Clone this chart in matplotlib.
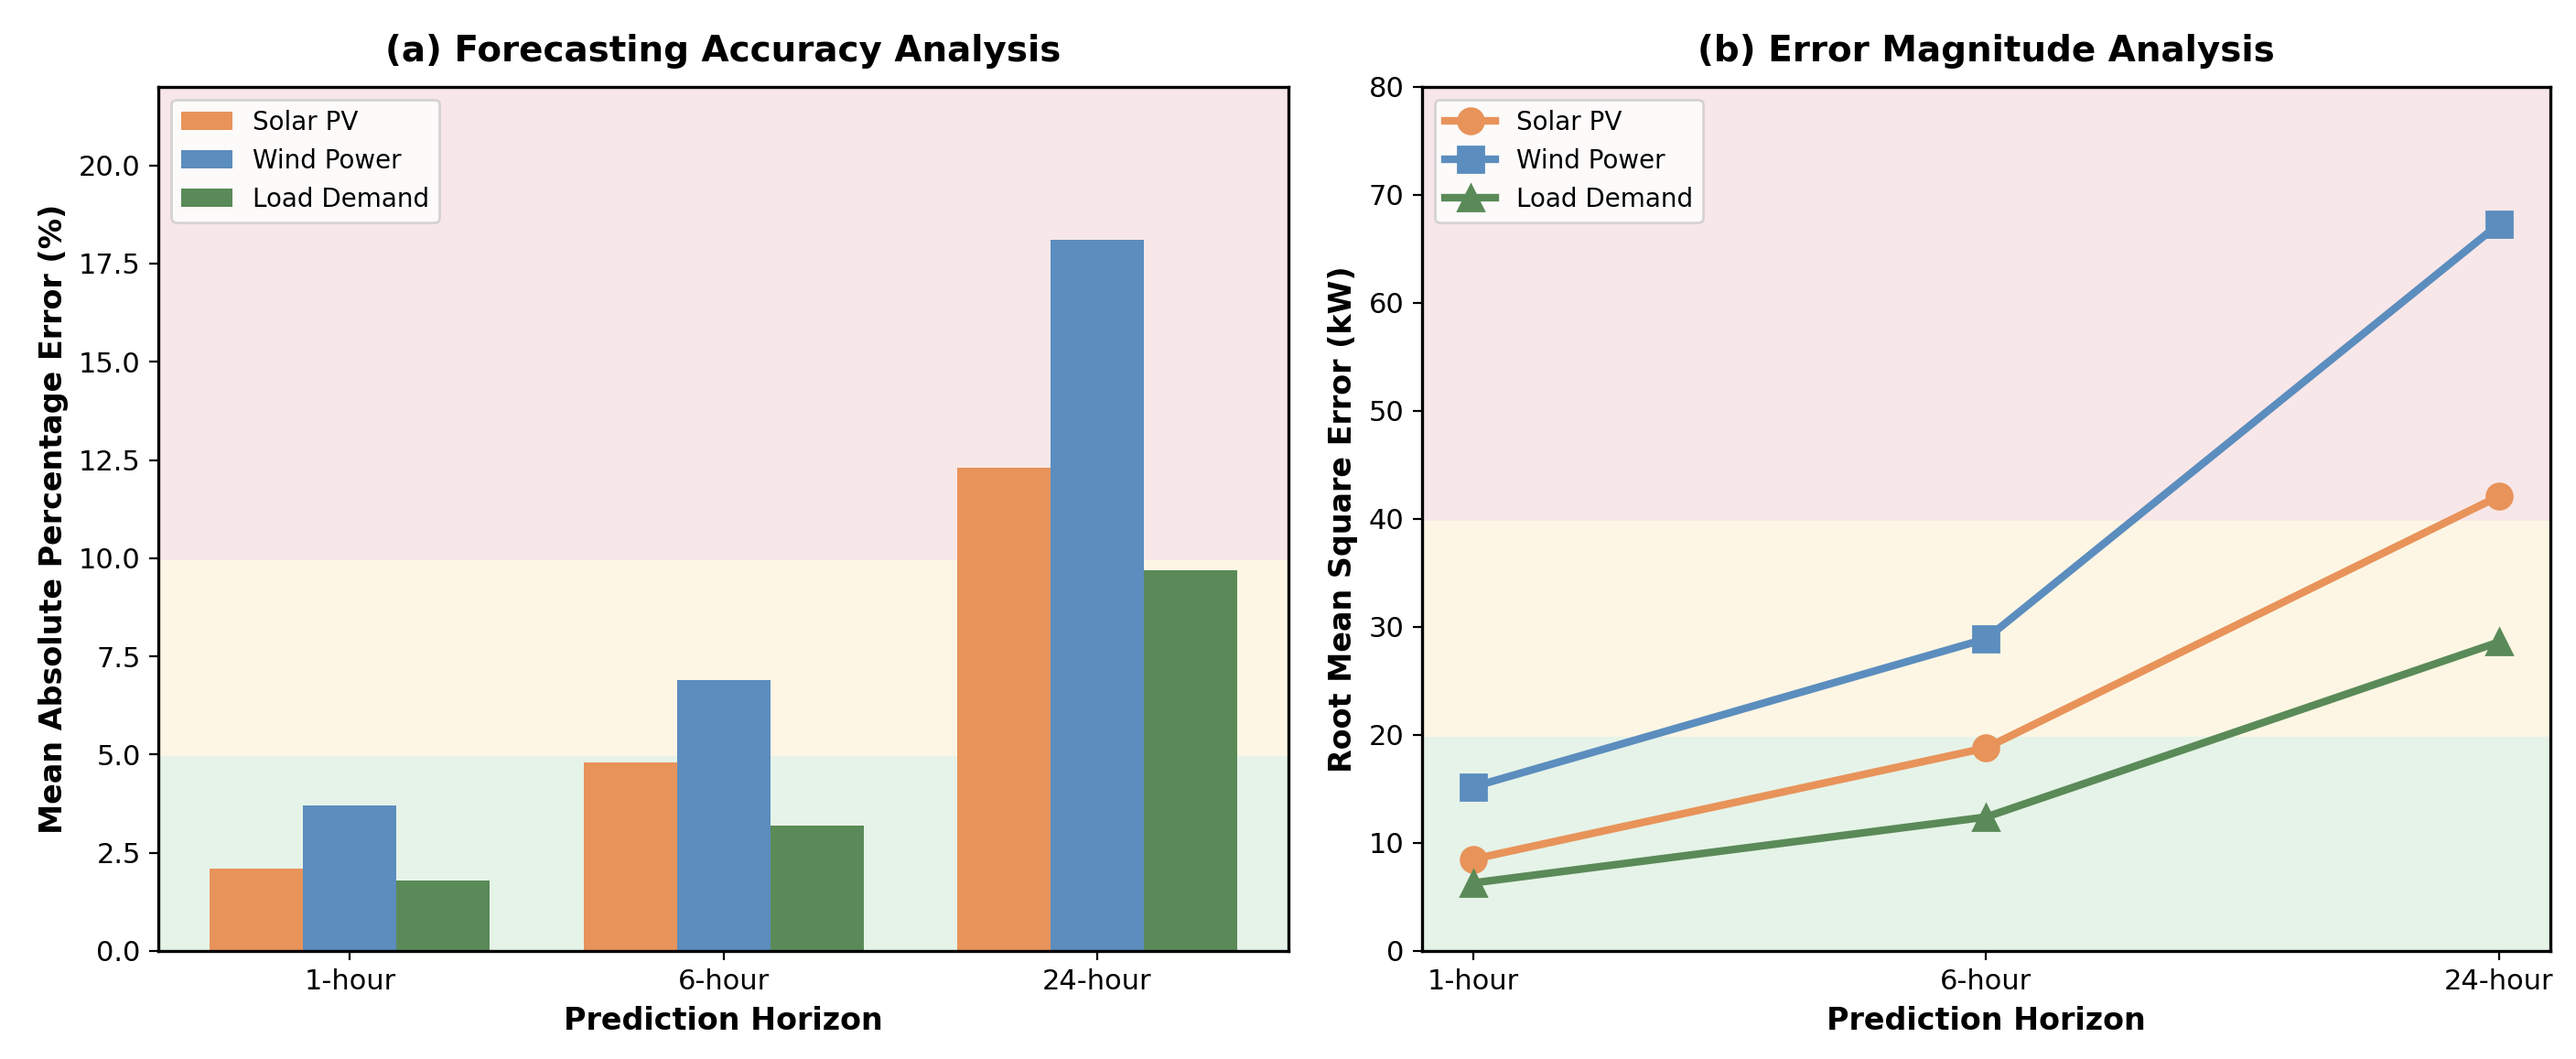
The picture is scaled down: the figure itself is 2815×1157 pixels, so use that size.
import matplotlib
matplotlib.use("Agg")
import matplotlib.pyplot as plt
import numpy as np

horizons = ["1-hour", "6-hour", "24-hour"]
series_names = ["Solar PV", "Wind Power", "Load Demand"]
mape_solar = [2.1, 4.8, 12.3]
mape_wind = [3.7, 6.9, 18.1]
mape_load = [1.8, 3.2, 9.7]
rmse_solar = [8.5, 18.8, 42.1]
rmse_wind = [15.2, 28.9, 67.3]
rmse_load = [6.3, 12.4, 28.6]

colors = ["#E8935A", "#5B8DBE", "#5A8A58"]
markers = ["o", "s", "^"]

fig = plt.figure(figsize=(14.075, 5.785), dpi=200)
ax1 = fig.add_axes([0.0615, 0.102, 0.4387, 0.816])
ax2 = fig.add_axes([0.552, 0.102, 0.438, 0.816])

# Panel (a)
x = np.arange(len(horizons))
w = 0.25
ax1.axhspan(0, 5, color="#E6F3E8", zorder=0)
ax1.axhspan(5, 10, color="#FDF6E4", zorder=0)
ax1.axhspan(10, 22, color="#F8E7E8", zorder=0)
for i, (vals, name) in enumerate(zip([mape_solar, mape_wind, mape_load], series_names)):
    ax1.bar(x + (i - 1) * w, vals, w, color=colors[i], label=name, zorder=2)
ax1.set_ylim(0, 22)
ax1.set_xticks(x)
ax1.set_xticklabels(horizons)
ax1.set_xlabel("Prediction Horizon", fontsize=12, fontweight="bold")
ax1.set_ylabel("Mean Absolute Percentage Error (%)", fontsize=12, fontweight="bold")
ax1.set_title("(a) Forecasting Accuracy Analysis", fontsize=14, fontweight="bold", pad=10)
ax1.legend(loc="upper left", fontsize=10)

# Panel (b)
ax2.axhspan(0, 20, color="#E6F3E8", zorder=0)
ax2.axhspan(20, 40, color="#FDF6E4", zorder=0)
ax2.axhspan(40, 80, color="#F8E7E8", zorder=0)
for i, (vals, name) in enumerate(zip([rmse_solar, rmse_wind, rmse_load], series_names)):
    ax2.plot(x, vals, marker=markers[i], color=colors[i], linewidth=3,
             markersize=10, label=name, zorder=3)
ax2.set_ylim(0, 80)
ax2.set_xticks(x)
ax2.set_xticklabels(horizons)
ax2.set_xlabel("Prediction Horizon", fontsize=12, fontweight="bold")
ax2.set_ylabel("Root Mean Square Error (kW)", fontsize=12, fontweight="bold")
ax2.set_title("(b) Error Magnitude Analysis", fontsize=14, fontweight="bold", pad=10)
ax2.legend(loc="upper left", fontsize=10)

for ax in (ax1, ax2):
    ax.tick_params(labelsize=11)
    for s in ax.spines.values():
        s.set_linewidth(1.2)

fig.savefig("out.png", dpi=200)
